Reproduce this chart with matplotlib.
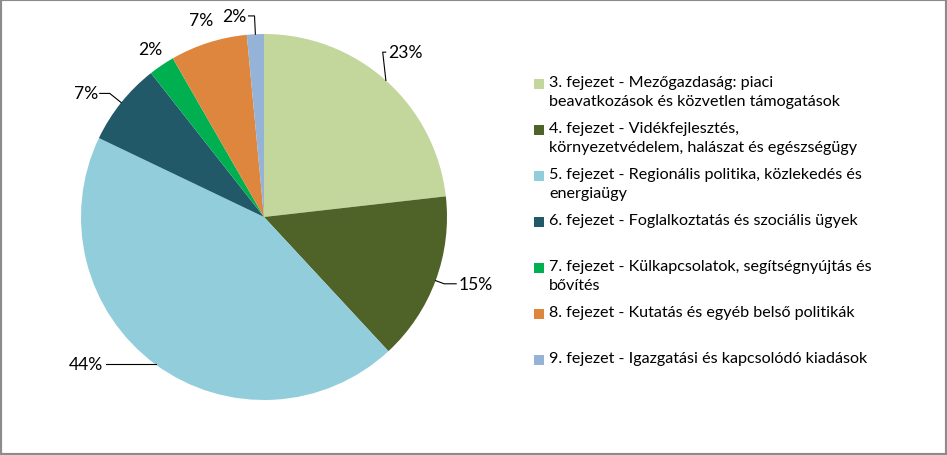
import numpy as np
import matplotlib.pyplot as plt
from matplotlib.patches import Rectangle

# shares of the budget chapters (percent)
shares = [23.2, 14.9, 44.0, 7.3, 2.3, 6.8, 1.5]
pct_labels = ["23%", "15%", "44%", "7%", "2%", "7%", "2%"]
legend_labels = [
    "3. fejezet - Mezőgazdaság: piaci\nbeavatkozások és közvetlen támogatások",
    "4. fejezet - Vidékfejlesztés,\nkörnyezetvédelem, halászat és egészségügy",
    "5. fejezet - Regionális politika, közlekedés és\nenergiaügy",
    "6. fejezet - Foglalkoztatás és szociális ügyek",
    "7. fejezet - Külkapcsolatok, segítségnyújtás és\nbővítés",
    "8. fejezet - Kutatás és egyéb belső politikák",
    "9. fejezet - Igazgatási és kapcsolódó kiadások",
]
colors = ["#C3D69B", "#4F6228", "#92CDDC", "#215968", "#00B050", "#DE863E", "#95B3D7"]

W, H = 947, 456
plt.rcParams['font.family'] = ['Lato', 'DejaVu Sans']

fig = plt.figure(figsize=(W / 100, H / 100), dpi=100)
ax = fig.add_axes([0, 0, 1, 1])

cx, cy, R = 264, H - 218, 183
wedges, _ = ax.pie(shares, colors=colors, startangle=90, counterclock=False,
                   center=(cx, cy), radius=R, frame=True,
                   wedgeprops=dict(linewidth=0))
ax.set_xlim(0, W)
ax.set_ylim(0, H)
ax.set_aspect("equal")
ax.axis("off")

fs_pct = 12.6
fs_leg = 11.6
# per-slice tweaks for the outside labels: kink radius, kink angle shift
# (deg), horizontal leader length (0 = no leader, label at kink radius)
kink_r = [1.11, 1.05, 1.0, 1.08, 1.11, 1.13, 1.1]
kink_da = [6, 0, 0, 0, 0, 0, 0]
h_len = [3, 12, 50, 10, 0, 0, 6]
for w, txt, kr, da, hl in zip(wedges, pct_labels, kink_r, kink_da, h_len):
    ang = np.deg2rad((w.theta1 + w.theta2) / 2)
    ex, ey = cx + R * np.cos(ang), cy + R * np.sin(ang)
    ka = ang + np.deg2rad(da)
    kx, ky = cx + R * kr * np.cos(ka), cy + R * kr * np.sin(ka)
    side = 1 if np.cos(ang) >= 0 else -1
    if hl > 0:
        ax.plot([ex, kx, kx + side * hl], [ey, ky, ky], color="black", lw=0.8)
        ax.text(kx + side * (hl + 2), ky, txt, fontsize=fs_pct,
                ha="left" if side > 0 else "right", va="center", color="black")
    else:
        ax.text(kx, ky, txt, fontsize=fs_pct, ha="center", va="center",
                color="black")

# legend drawn by hand: every entry gets two text lines of room
lx, ly0, step = 534, H - 85, 46
for i, (lab, c) in enumerate(zip(legend_labels, colors)):
    y = ly0 - i * step
    ax.add_patch(Rectangle((lx, y - 5), 10, 10, facecolor=c, edgecolor="none"))
    ax.text(lx + 15, y + 9, lab, fontsize=fs_leg, ha="left", va="top",
            linespacing=1.42, color="black")

# grey frame round the chart
fig.add_artist(Rectangle((0, 0), 1, 1, transform=fig.transFigure, fill=False,
                         edgecolor="#8C8C8C", linewidth=3))

fig.savefig("out.png", dpi=100, facecolor="white")
